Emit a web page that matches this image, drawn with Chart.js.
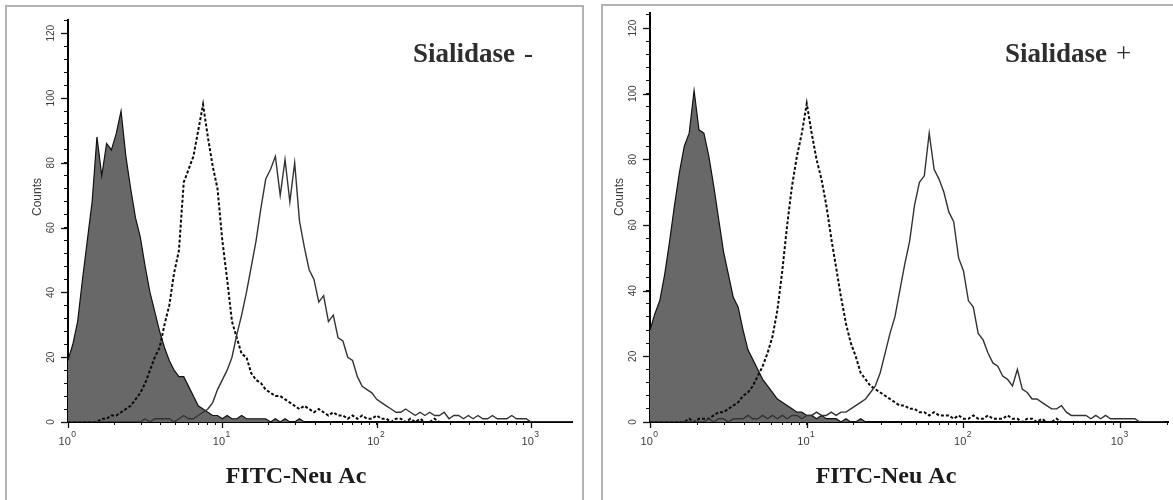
<!DOCTYPE html>
<html>
<head>
<meta charset="utf-8">
<script src="https://cdn.jsdelivr.net/npm/chart.js@4.4.0/dist/chart.umd.min.js"></script>
<style>
  html, body { margin: 0; padding: 0; background: #fff; }
  body { width: 1173px; height: 500px; position: relative; overflow: hidden; }
  .frame { position: absolute; border: 2px solid #b3b3b3; box-sizing: border-box; }
  #frameL { left: 5px; top: 5px; width: 579px; height: 530px; }
  #frameR { left: 601px; top: 4px; width: 600px; height: 530px; }
  .wrap { position: absolute; top: 0; height: 500px; }
  #wrapL { left: 0; width: 590px; }
  #wrapR { left: 590px; width: 583px; }
</style>
</head>
<body>
<div class="frame" id="frameL"></div>
<div class="frame" id="frameR"></div>
<div class="wrap" id="wrapL"><canvas id="chartL" width="590" height="500"></canvas></div>
<div class="wrap" id="wrapR"><canvas id="chartR" width="583" height="500"></canvas></div>

<script>
/* ===============================
   Data (channel = 1024-ch log scale, 256 per decade)
================================*/
const channels = [0,8,16,24,32,40,48,56,64,72,80,88,96,104,112,120,128,136,144,152,
  160,168,176,184,192,200,208,216,224,232,240,248,256,264,272,280,288,296,304,312,
  320,328,336,344,352,360,368,376,384,392,400,408,416,424,432,440,448,456,464,472,
  480,488,496,504,512,520,528,536,544,552,560,568,576,584,592,600,608,616,624,632,
  640,648,656,664,672,680,688,696,704,712,720,728,736,744,752,760,768,776,784,792,
  800,808,816,824,832,840];

const decadeLabels = ["0", "1", "2", "3"];
const countLabels = [0, 20, 40, 60, 80, 100, 120];

// Sialidase -
const minusControl = [
  19,24,31,44,56,68,88,76,86,84,
  89,96,82,72,63,57,48,40,34,28,
  23,19,16,14,14,11,8,5,4,3,
  2,2,1,2,1,1,2,1,1,1,
  1,1,0,1,0,1,0,0,1,0,
  0,0,0,0,0,0,0,0,0,0,
  0,0,0,0,0,0,0,0,0,0,
  0,0,0,0,0,0,0,0,0,0,
  0,0,0,0,0,0,0,0,0,0,
  0,0,0,0,0,0,0,0,0,0,
  0,0,0,0,0,0];
const minusDashed = [
  0,0,0,0,0,0,0,1,1,2,
  2,3,4,5,7,9,12,16,20,23,
  30,36,46,53,74,78,82,90,98,88,
  79,72,56,44,31,26,21,20,15,13,
  12,10,9,8,8,7,6,5,4,5,
  4,3,4,3,2,3,2,2,1,2,
  1,2,1,1,2,1,1,0,1,1,
  0,1,0,1,0,0,1,0,0,0,
  0,0,0,0,0,0,0,0,0,0,
  0,0,0,0,0,0,0,0,0,0,
  0,0,0,0,0,0];
const minusSolid = [
  0,0,0,0,0,0,0,0,0,0,
  0,0,0,0,0,0,1,0,1,1,
  1,1,0,1,2,1,1,2,3,4,
  6,10,13,16,20,27,33,40,48,56,
  66,75,78,82,70,81,68,80,62,54,
  47,44,37,39,31,33,26,25,20,19,
  14,11,10,9,7,6,5,4,3,3,
  4,3,2,3,2,3,2,2,3,1,
  2,2,1,2,1,2,1,1,2,1,
  1,1,2,1,1,1,0,0,0,0,
  0,0,0,0,0,0];

// Sialidase +
const plusControl = [
  28,33,37,45,55,66,76,84,88,101,
  89,88,81,72,62,52,45,38,35,28,
  22,19,16,13,11,9,7,6,5,4,
  3,3,2,2,1,2,1,1,1,0,
  1,0,0,1,0,0,0,0,0,0,
  0,0,0,0,0,0,0,0,0,0,
  0,0,0,0,0,0,0,0,0,0,
  0,0,0,0,0,0,0,0,0,0,
  0,0,0,0,0,0,0,0,0,0,
  0,0,0,0,0,0,0,0,0,0,
  0,0,0,0,0,0];
const plusDashed = [
  0,0,0,0,0,0,0,0,1,0,
  1,1,1,2,3,3,4,5,6,8,
  9,11,14,17,21,26,34,46,60,72,
  81,88,97,88,80,74,66,56,47,38,
  30,24,20,15,13,11,10,9,8,7,
  6,5,5,4,4,3,3,2,3,2,
  2,2,1,2,1,1,2,1,1,2,
  1,1,1,2,1,1,0,1,1,0,
  1,0,0,1,0,0,0,0,0,0,
  0,0,0,0,0,0,0,0,0,0,
  0,0,0,0,0,0];
const plusSolid = [
  0,0,0,0,0,0,0,0,0,0,
  0,0,1,0,1,1,0,1,1,1,
  2,1,1,2,1,2,1,2,1,2,
  2,1,2,2,3,2,2,3,2,3,
  3,4,5,6,7,9,11,15,21,27,
  32,40,48,55,66,73,75,88,77,74,
  70,64,61,50,46,37,35,27,25,21,
  18,17,14,13,11,16,10,9,7,7,
  6,5,4,4,5,3,2,2,2,2,
  1,2,1,2,1,1,1,1,1,1,
  0,0,0,0,0,0];

/* ===============================
   Axis helpers
================================*/
function logTicks(max) {
  const out = [];
  for (let k = 0; k < 4; k++) {
    for (let m = 1; m <= 9; m++) {
      const v = 256 * (k + Math.log10(m));
      if (v <= max) out.push({ value: v, major: m === 1 });
    }
  }
  return out;
}

/* ===============================
   Text + major tick plugin
================================*/
const SANS = '"Liberation Sans", Arial, sans-serif';
const SERIF = '"Liberation Serif", "Times New Roman", serif';

const panelText = {
  id: "panelText",
  afterDraw(chart, args, opts) {
    const ctx = chart.ctx;
    const xs = chart.scales.x, ys = chart.scales.y;
    ctx.save();

    // longer major ticks
    ctx.strokeStyle = "#111";
    ctx.lineWidth = 1.3;
    countLabels.forEach(v => {
      const py = Math.round(ys.getPixelForValue(v)) + 0.5;
      ctx.beginPath(); ctx.moveTo(xs.left - 7, py); ctx.lineTo(xs.left - 1, py); ctx.stroke();
    });
    decadeLabels.forEach((d, i) => {
      const px = Math.round(xs.getPixelForValue(256 * i)) + 0.5;
      ctx.beginPath(); ctx.moveTo(px, ys.bottom); ctx.lineTo(px, ys.bottom + 6); ctx.stroke();
    });

    // y tick labels (rotated)
    ctx.fillStyle = "#3c3c3c";
    ctx.font = "10px " + SANS;
    ctx.textAlign = "center";
    ctx.textBaseline = "middle";
    countLabels.forEach(v => {
      ctx.save();
      ctx.translate(xs.left - 17, ys.getPixelForValue(v));
      ctx.rotate(-Math.PI / 2);
      ctx.fillText(String(v), 0, 0);
      ctx.restore();
    });

    // x tick labels 10^n
    ctx.textAlign = "left";
    decadeLabels.forEach((d, i) => {
      const px = xs.getPixelForValue(256 * i);
      ctx.font = "11px " + SANS;
      const w10 = ctx.measureText("10").width;
      ctx.font = "8.5px " + SANS;
      const ws = ctx.measureText(d).width;
      const x0 = px - (w10 + ws) / 2 - 1;
      ctx.font = "11px " + SANS;
      ctx.fillText("10", x0, 442);
      ctx.font = "8.5px " + SANS;
      ctx.fillText(d, x0 + w10 + 0.5, 435);
    });

    // Counts
    ctx.font = "12px " + SANS;
    ctx.textAlign = "center";
    ctx.save();
    ctx.translate(xs.left - 30, 197);
    ctx.rotate(-Math.PI / 2);
    ctx.fillText("Counts", 0, 0);
    ctx.restore();

    // panel label
    ctx.fillStyle = "#2e2e2e";
    ctx.textAlign = "left";
    ctx.textBaseline = "alphabetic";
    ctx.font = "bold 27px " + SERIF;
    ctx.fillText("Sialidase", opts.labelX, 62);
    const wl = ctx.measureText("Sialidase").width;
    ctx.font = "27px " + SERIF;
    ctx.fillText(opts.sign, opts.labelX + wl + 9, 62);

    // x title
    ctx.fillStyle = "#1c1c1c";
    ctx.textAlign = "center";
    ctx.font = "bold 24px " + SERIF;
    ctx.fillText("FITC-Neu Ac", 296, 483);
    ctx.restore();
  }
};

/* ===============================
   Panel builder
================================*/
function buildPanel(canvasId, p) {
  return new Chart(document.getElementById(canvasId), {
    type: "line",
    data: {
      labels: channels,
      datasets: [
        { data: p.solid, borderColor: "#333", borderWidth: 1.4, pointRadius: 0, fill: false },
        { data: p.dashed, borderColor: "#0a0a0a", borderWidth: 2, borderDash: [3, 2], pointRadius: 0, fill: false },
        { data: p.control, borderColor: "#111", borderWidth: 1.2, backgroundColor: "#686868", pointRadius: 0, fill: "origin" }
      ]
    },
    options: {
      responsive: false,
      animation: false,
      events: [],
      layout: { padding: { left: 0, top: p.top, right: p.right, bottom: 0 } },
      plugins: {
        legend: { display: false },
        tooltip: { enabled: false },
        panelText: { labelX: p.labelX, sign: p.sign }
      },
      scales: {
        x: {
          type: "linear",
          min: 0,
          max: p.xMax,
          afterBuildTicks: s => { s.ticks = logTicks(p.xMax); },
          afterFit: s => { s.height = 500 - 422; },
          grid: { drawOnChartArea: false, tickLength: 3, tickColor: "#111", tickWidth: 1 },
          border: { color: "#000", width: 2 },
          ticks: { display: false }
        },
        y: {
          min: 0,
          max: p.yMax,
          afterFit: s => { s.width = p.axisLeft; },
          grid: { drawOnChartArea: false, tickLength: 4, tickColor: "#111", tickWidth: 1 },
          border: { color: "#000", width: 2 },
          ticks: { display: false, stepSize: 4, includeBounds: false }
        }
      }
    },
    plugins: [panelText]
  });
}

buildPanel("chartL", {
  control: minusControl, dashed: minusDashed, solid: minusSolid,
  xMax: 836, yMax: 124.1, top: 20, right: 18, axisLeft: 68,
  labelX: 413, sign: "-"
});

buildPanel("chartR", {
  control: plusControl, dashed: plusDashed, solid: plusSolid,
  xMax: 846, yMax: 124.6, top: 13, right: 5, axisLeft: 60,
  labelX: 415, sign: "+"
});
</script>
</body>
</html>
